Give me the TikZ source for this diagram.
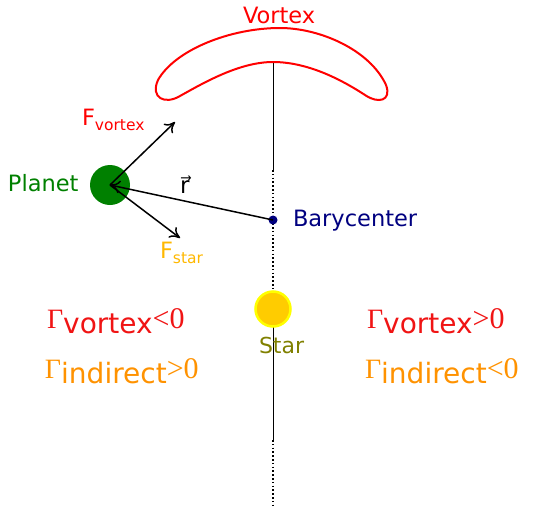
\documentclass[tikz,border=0pt]{standalone}
\usepackage{fontspec}
\setmainfont{DejaVu Sans}
\newfontfamily\serifg{Liberation Serif}
\usetikzlibrary{arrows.meta}
\definecolor{vred}{RGB}{255,0,0}
\definecolor{gred}{RGB}{240,20,20}
\definecolor{iorange}{RGB}{255,146,0}
\definecolor{fstar}{RGB}{255,184,0}
\definecolor{pgreen}{RGB}{0,128,0}
\definecolor{bnavy}{RGB}{0,0,128}
\definecolor{solfill}{RGB}{255,204,0}
\definecolor{solring}{RGB}{255,255,0}
\definecolor{olivetext}{RGB}{128,128,0}
\newcommand{\fsz}[1]{\fontsize{#1}{#1}\selectfont}
\tikzset{
  lbl/.style={anchor=base west, inner sep=0pt, outer sep=0pt},
  force/.style={line width=1.5pt, -{To[length=10pt,width=13pt]}},
  axisline/.style={line width=1pt},
  axisdots/.style={line width=1.4pt, dash pattern=on 1.6pt off 2.2pt},
}
\begin{document}
\begin{tikzpicture}[x=1pt,y=-1pt]
\useasboundingbox (0,0) rectangle (536,509);
% axis
\coordinate (a0) at (273,62);
\coordinate (a1) at (273,170);
\coordinate (a2) at (273,440);
\coordinate (a3) at (273,507);
\draw[axisline] (a0) -- (a1);
\draw[axisdots] (a1) -- (273,292);
\draw[axisline] (273,326) -- (a2);
\draw[axisdots] (a2) -- (a3);
% vortex
\draw[vred, line width=2pt]
  (273,62) .. controls (310,62) and (345,82) .. (365,95)
  .. controls (378,104) and (392,101) .. (386,85)
  .. controls (370,50) and (320,28) .. (280,28)
  .. controls (230,28) and (175,50) .. (158,80)
  .. controls (150,98) and (165,105) .. (180,96)
  .. controls (205,82) and (240,62) .. (273,62) -- cycle;
\node[lbl, text=vred] (vortexlbl) at (243,23) {\fsz{22.5}Vortex};
% star
\node[circle, fill=solfill, draw=solring, line width=2.5pt, minimum size=35pt, inner sep=0pt] (star) at (273,309) {};
\node[lbl, text=olivetext] (starlbl) at (259,353) {\fsz{22}Star};
% planet
\node[circle, fill=pgreen, minimum size=40pt, inner sep=0pt] (planet) at (110,185) {};
\node[lbl, text=pgreen] (planetlbl) at (8,191) {\fsz{22.5}Planet};
% barycenter
\node[circle, fill=bnavy, minimum size=9pt, inner sep=0pt] (bary) at (273,220) {};
\node[lbl, text=bnavy] (barylbl) at (293,226) {\fsz{22.5}Barycenter};
% vectors
\coordinate (fv) at (175,122);
\coordinate (fs) at (180,238);
\draw[force] (bary.center) -- (planet.center);
\draw[force] (planet.center) -- (fv);
\draw[force] (planet.center) -- (fs);
\node[lbl] (rlbl) at (180,193) {\fsz{23}r⃗};
\node[lbl, text=vred] (fvlbl) at (82,125) {\fsz{22.5}F\raisebox{-5pt}{\fsz{15.5}vortex}};
\node[lbl, text=fstar] (fslbl) at (160,258) {\fsz{22.5}F\raisebox{-5pt}{\fsz{15.5}star}};
% torques
\node[lbl, text=gred] (gvl) at (47,328) {{\serifg\fsz{28}Γ}\raisebox{-5pt}{\fsz{28}vortex}{\serifg\fsz{30}<0}};
\node[lbl, text=iorange] (gil) at (45,378) {{\serifg\fsz{28}Γ}\raisebox{-5pt}{\fsz{28}indirect}{\serifg\fsz{30}>0}};
\node[lbl, text=gred] (gvr) at (367,328) {{\serifg\fsz{28}Γ}\raisebox{-5pt}{\fsz{28}vortex}{\serifg\fsz{30}>0}};
\node[lbl, text=iorange] (gir) at (365,378) {{\serifg\fsz{28}Γ}\raisebox{-5pt}{\fsz{28}indirect}{\serifg\fsz{30}<0}};
\end{tikzpicture}
\end{document}
